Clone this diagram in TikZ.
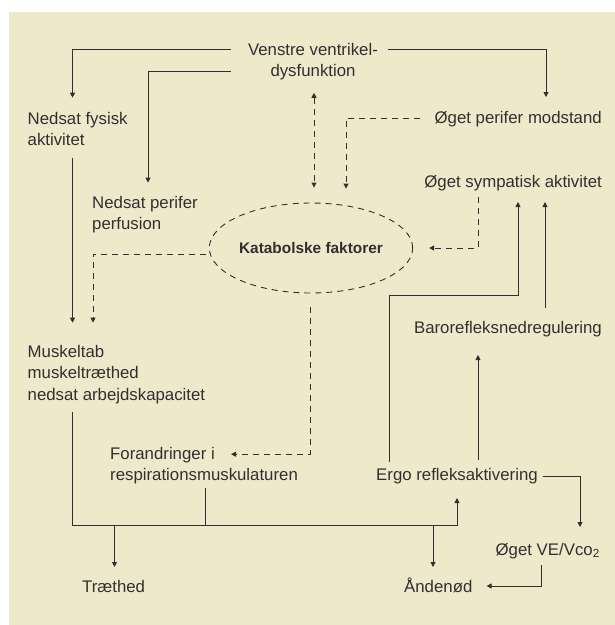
\documentclass[tikz,border=0pt]{standalone}
\usepackage{fontspec}
\setmainfont{Liberation Sans}
\usepackage{tikz}
\usetikzlibrary{arrows.meta,calc,shapes.geometric}

\definecolor{bgcream}{RGB}{239,233,203}
\definecolor{ink}{RGB}{48,48,48}
\newcommand{\lblfont}{\fontsize{16.8pt}{21.5pt}\selectfont}

\tikzset{
  lbl/.style={inner sep=0pt, font=\lblfont, text=ink},
  arr/.style={-{Triangle[length=5pt,width=5pt]}, line width=0.9pt, draw=ink},
  dsh/.style={arr, dash pattern=on 6pt off 5pt},
  plain/.style={line width=0.9pt, draw=ink}
}

\begin{document}
\begin{tikzpicture}[x=1pt, y=-1pt]
				\useasboundingbox (0,0) rectangle (615,625);
				\fill[bgcream] (9,12) rectangle (615,625);
				% labels
				\node (vvd) [lbl, anchor=north, align=center] at (313,42.8) {Venstre ventrikel-\\dysfunktion};
				\node (nfa) [lbl, anchor=north west, align=left] at (27.5,111.7) {Nedsat fysisk\\aktivitet};
				\node (npp) [lbl, anchor=north west, align=left] at (92,195.7) {Nedsat perifer\\perfusion};
				\node (opm) [lbl, anchor=base east] at (602,123) {Øget perifer modstand};
				\node (osa) [lbl, anchor=base east] at (602,187) {Øget sympatisk aktivitet};
				\node (kf) [ellipse, draw=ink, line width=0.9pt, dash pattern=on 6pt off 5pt, minimum width=186pt, minimum height=90pt, inner sep=0pt, text=ink, font=\fontsize{15.4pt}{18pt}\selectfont\bfseries] at (311,248) {Katabolske faktorer};
				\node (bar) [lbl, anchor=base east] at (602,333) {Barorefleksnedregulering};
				\node (mus) [lbl, anchor=north west, align=left] at (27.5,344.7) {Muskeltab\\muskeltræthed\\nedsat arbejdskapacitet};
				\node (for) [lbl, anchor=north west, align=left] at (110,446.7) {Forandringer i\\respirationsmuskulaturen};
				\node (ergo) [lbl, anchor=base west] at (376,480) {Ergo refleksaktivering};
				\node (ove) [lbl, anchor=base east] at (600,555) {Øget VE/Vco\textsubscript{2}};
				\node (tr) [lbl, anchor=base west] at (82,592) {Træthed};
				\node (and) [lbl, anchor=base west] at (404,592) {Åndenød};
				% solid connectors
				\draw [arr] ($(vvd.north)+(-82,7)$) -| ($(nfa.north west)+(45,-14)$);
				\draw [arr] ($(vvd.north)+(75,7)$) -| ($(opm.base east)+(-56,-26)$);
				\draw [arr] ($(vvd.north)+(-82,29)$) -| ($(npp.north west)+(56,-13)$);
				\draw [arr] ($(nfa.north west)+(45,46)$) -- ($(mus.north west)+(45,-22)$);
				\draw [arr] ($(mus.north west)+(45,67)$) |- ($(ergo.base west)+(81,45)$) -- ($(ergo.base west)+(81,18)$);
				\draw [plain] ($(for.north west)+(95,41)$) -- ++(0,37.3);
				\draw [arr] ($(tr.base west)+(32.5,-67)$) -- ($(tr.base west)+(32.5,-25)$);
				\draw [arr] ($(and.base west)+(29,-67)$) -- ($(and.base west)+(29,-25)$);
				\draw [arr] ($(ergo.base west)+(13,-18)$) |- ($(osa.base east)+(-84,108)$) -- ($(osa.base east)+(-84,15)$);
				\draw [arr] ($(bar.base east)+(-57,-25)$) -- ($(osa.base east)+(-57,15)$);
				\draw [arr] ($(ergo.base west)+(102,-20)$) -- ($(bar.base east)+(-124,22)$);
				\draw [arr] ($(ergo.base east)+(5,-4)$) -| ($(ove.base east)+(-20,-28)$);
				\draw [arr] ($(ove.base east)+(-59,10)$) |- ($(and.base east)+(14,-6)$);
				% dashed connectors
				\draw [dsh, {Triangle[length=5pt,width=5pt]}-{Triangle[length=5pt,width=5pt]}] ($(vvd.north)+(1,50)$) -- ($(kf.north)+(3,-15)$);
				\draw [dsh] ($(opm.base west)+(-14,-5)$) -| ($(kf.north)+(35,-14)$);
				\draw [dsh] ($(osa.base east)+(-124,10)$) |- ($(kf.east)+(16,0)$);
				\draw [dsh] ($(kf.west)+(-3,6)$) -| ($(mus.north west)+(65.5,-22)$);
				\draw [dsh] ($(kf.south)+(-1,14)$) |- ($(for.north west)+(121,7.5)$);
			\end{tikzpicture}
\end{document}
